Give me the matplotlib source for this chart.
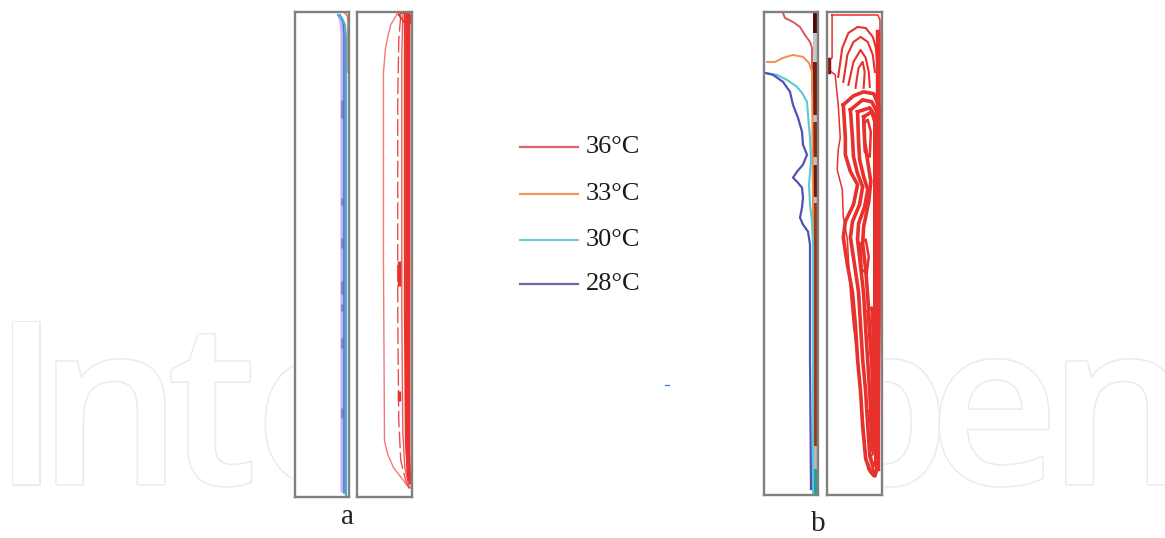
import matplotlib
matplotlib.use("Agg")
import matplotlib.pyplot as plt
import matplotlib.patheffects as pe
from matplotlib.patches import Rectangle
from matplotlib.lines import Line2D

W, H = 1165, 538

# ---------------- data (panel-local units: x across 0..54, y depth 0..484 from top) -------------
legend_labels = ["36°C", "33°C", "30°C", "28°C"]
legend_colors = ["#e0636c", "#f4975a", "#74cdd6", "#6a66b4"]

# watermark letters and their centres (pixels)
wm_letters = ["I", "n", "t", "e", "p", "e", "n"]
wm_centres = [26, 110, 212, 320, 880, 994, 1120]

# panel a, left: isotherms hugging the right wall
a_lav_x = [44, 46, 47, 47, 47]
a_lav_y = [4, 10, 20, 300, 478]
a_blue_x = [45, 48, 49, 49, 49]
a_blue_y = [3, 10, 20, 300, 480]
a_cyan_x = [43, 47, 50, 51, 51, 51]
a_cyan_y = [3, 6, 13, 25, 300, 484]
a_orange_x = [50, 52.5, 53, 53]
a_orange_y = [1, 4, 10, 60]
a_dash_y0 = [88, 186, 226, 268, 291, 325, 395]
a_dash_y1 = [106, 193, 236, 281, 298, 335, 405]

# panel a, right: 36°C contours
ar_outer_x = [40, 33, 30, 28, 26, 26, 27, 30, 36, 46, 51, 53, 53, 40]
ar_outer_y = [1, 13, 26, 36, 60, 250, 428, 441, 455, 468, 475, 475, 2, 1]
ar_c2_x = [43, 41, 40, 40, 41, 43, 48, 52]
ar_c2_y = [3, 28, 88, 300, 408, 448, 468, 476]
ar_c3_x = [45, 44, 44, 45, 47, 51]
ar_c3_y = [3, 40, 300, 420, 455, 472]
ar_c4_x = [47, 47, 47, 48, 50, 52]
ar_c4_y = [2, 40, 300, 430, 460, 470]
ar_c5_x = [50, 50, 50, 51]
ar_c5_y = [2, 250, 440, 466]
ar_top_x = [41, 44, 50, 53, 52, 46, 41]
ar_top_y = [3, 1, 1, 4, 12, 10, 3]
ar_seg_y0 = [248, 378]
ar_seg_y1 = [273, 388]

# panel b, left: isotherms
b_red_x = [19, 21, 29, 36, 41, 46, 48, 48]
b_red_y = [1, 6, 10, 15, 23, 30, 36, 80]
b_orange_x = [3, 11, 19, 29, 39, 45, 48, 49, 49]
b_orange_y = [50, 50, 46, 43, 45, 51, 60, 200, 480]
b_cyan_x = [1, 13, 23, 33, 38, 43, 44, 46, 47, 45, 46, 48, 49, 49]
b_cyan_y = [61, 63, 68, 75, 81, 90, 103, 126, 150, 173, 193, 210, 233, 483]
b_blue_x = [1, 9, 19, 26, 29, 34, 38, 39, 43, 39, 33, 29, 33, 38, 39, 38, 36, 39, 44, 46, 46, 46, 47]
b_blue_y = [61, 63, 70, 80, 93, 106, 120, 133, 143, 153, 160, 166, 170, 176, 186, 196, 206, 213, 220, 233, 248, 348, 478]
strip_y0 = [0, 21, 50, 103, 110, 145, 153, 185, 191, 435, 458]
strip_y1 = [21, 50, 103, 110, 145, 153, 185, 191, 435, 458, 483]
strip_colors = ["#4a0e0e", "#c8c8c8", "#7a1c12", "#c0c0c0", "#8a2a10", "#c0c0c0",
                "#6e1a10", "#c0c0c0", "#9a3a14", "#b8b8b8", "#20a0a0"]

# panel b, right: 36°C contours
br_outer_x = [5, 5, 2, 2, 8, 11, 13, 11, 10, 15, 16, 20, 21, 23, 26, 30, 33, 36, 38, 40, 45, 50, 52, 52, 50, 5]
br_outer_y = [3, 46, 48, 58, 63, 93, 126, 138, 158, 178, 205, 228, 248, 281, 315, 348, 381, 415, 441, 458, 465, 455, 288, 8, 3, 3]
br_edge_x = [2, 2]
br_edge_y = [47, 60]
br_arch1_x = [11, 15, 21, 30, 38, 45, 48, 50]
br_arch1_y = [65, 36, 21, 15, 16, 25, 36, 60]
br_arch2_x = [16, 20, 26, 33, 40, 45, 47]
br_arch2_y = [70, 43, 30, 25, 30, 43, 60]
br_arch3_x = [21, 26, 33, 38, 41, 42]
br_arch3_y = [73, 50, 38, 46, 60, 75]
br_arch4_x = [28, 31, 35, 37, 36]
br_arch4_y = [76, 56, 50, 60, 76]
br_body1_x = [16, 18, 18, 23, 30, 26, 18, 16, 20, 25, 28, 30, 33, 35, 38, 43, 47, 50, 51, 51, 46, 36, 26, 16]
br_body1_y = [93, 126, 143, 160, 173, 193, 210, 226, 253, 281, 315, 348, 381, 415, 448, 461, 465, 455, 300, 95, 82, 80, 84, 93]
br_body2_x = [23, 25, 26, 30, 35, 32, 25, 23, 27, 31, 33, 35, 38, 40, 42, 45, 48, 49, 49, 44, 35, 23]
br_body2_y = [98, 126, 145, 162, 175, 193, 210, 226, 253, 281, 315, 348, 381, 415, 445, 455, 450, 300, 100, 90, 88, 98]
br_body3_x = [30, 31, 32, 36, 40, 37, 31, 30, 33, 36, 38, 40, 42, 44, 46, 47, 47, 42, 30]
br_body3_y = [100, 130, 148, 165, 178, 195, 212, 228, 255, 283, 318, 350, 383, 415, 440, 300, 104, 96, 100]
br_body4_x = [36, 37, 40, 43, 41, 36, 35, 38, 40, 42, 44, 45, 46, 47, 47, 44, 36]
br_body4_y = [105, 130, 150, 170, 190, 215, 232, 258, 285, 320, 352, 385, 418, 430, 110, 100, 105]
br_isl1_x = [36, 40, 43, 42, 37, 36]
br_isl1_y = [112, 108, 120, 145, 140, 112]
br_isl2_x = [33, 38, 41, 39, 34, 33]
br_isl2_y = [232, 228, 245, 262, 258, 232]
br_isl3_x = [40, 44, 45, 43, 40]
br_isl3_y = [300, 296, 330, 345, 300]
br_isl4_x = [42, 46, 47, 44, 42]
br_isl4_y = [400, 395, 425, 440, 400]
br_isl5_x = [43, 47, 48, 46, 43]
br_isl5_y = [445, 440, 458, 465, 445]

# ---------------- figure ----------------
fig = plt.figure(figsize=(W / 100, H / 100), dpi=100)
fig.patch.set_facecolor("white")

# watermark
wm_kw = dict(fontsize=163, family="Open Sans", weight="semibold", color="white",
             va="baseline", ha="center", zorder=-3,
             path_effects=[pe.withStroke(linewidth=2.2, foreground="#ebebeb")])
for ch, xc in zip(wm_letters, wm_centres):
    fig.text(xc / W, 1 - 484 / H, ch, **wm_kw)
fig.patches.append(Rectangle((293 / W, 0), (884 - 293) / W, 1, transform=fig.transFigure,
                             facecolor="white", edgecolor="none", zorder=-2))

XMAX, YMAX = 54, 484


def panel(left, top, right, bottom):
    ax = fig.add_axes([left / W, 1 - bottom / H, (right - left) / W, (bottom - top) / H])
    ax.set_xlim(0, XMAX)
    ax.set_ylim(YMAX, 0)
    ax.set_xticks([])
    ax.set_yticks([])
    for s in ax.spines.values():
        s.set_color("#808080")
        s.set_linewidth(1.7)
    return ax


RED = "#e8302c"
LRED = "#f07a7a"

# panel a left
ax = panel(295, 12, 349, 497)
ax.plot(a_lav_x, a_lav_y, color="#c0b4ec", lw=2.2)
for y0, y1 in zip(a_dash_y0, a_dash_y1):
    ax.plot([47, 47], [y0, y1], color="#8c80d8", lw=2.2, solid_capstyle="butt")
ax.plot(a_blue_x, a_blue_y, color="#5a6ad0", lw=1.2)
ax.plot(a_cyan_x, a_cyan_y, color="#3cb4d8", lw=1.5)
ax.plot(a_orange_x, a_orange_y, color="#e08040", lw=1.2)

# panel a right
ax = panel(357, 12, 412, 497)
ax.plot(ar_outer_x, ar_outer_y, color=LRED, lw=1.0)
ax.plot(ar_c2_x, ar_c2_y, color=RED, lw=1.0, ls=(0, (12, 3)), alpha=0.85)
for y0, y1 in zip(ar_seg_y0, ar_seg_y1):
    ax.plot([41, 41], [y0, y1], color=RED, lw=2.5, solid_capstyle="butt")
ax.plot(ar_c3_x, ar_c3_y, color=RED, lw=1.0, alpha=0.8)
ax.plot(ar_c4_x, ar_c4_y, color=RED, lw=1.5)
ax.plot(ar_c5_x, ar_c5_y, color=RED, lw=3.0)
ax.plot(ar_top_x, ar_top_y, color=RED, lw=1.2)

# panel b left
ax = panel(764, 12, 818, 495)
for y0, y1, c in zip(strip_y0, strip_y1, strip_colors):
    ax.bar(51.2, y1 - y0, width=4.2, bottom=y0, color=c, edgecolor="none")
ax.plot(b_red_x, b_red_y, color="#d85a5e", lw=1.4)
ax.plot(b_orange_x, b_orange_y, color="#f0904c", lw=1.4)
ax.plot(b_cyan_x, b_cyan_y, color="#5cc6d4", lw=1.5)
ax.plot(b_blue_x, b_blue_y, color="#4f52b4", lw=1.6)

# panel b right
ax = panel(827, 12, 882, 495)
ax.plot(br_outer_x, br_outer_y, color=RED, lw=1.1)
ax.plot(br_edge_x, br_edge_y, color="#8a1a14", lw=2.5)
for xs, ys in [(br_arch1_x, br_arch1_y), (br_arch2_x, br_arch2_y),
               (br_arch3_x, br_arch3_y), (br_arch4_x, br_arch4_y)]:
    ax.plot(xs, ys, color=RED, lw=1.5)
for xs, ys in [(br_body1_x, br_body1_y), (br_body2_x, br_body2_y),
               (br_body3_x, br_body3_y), (br_body4_x, br_body4_y)]:
    ax.plot(xs, ys, color=RED, lw=2.6)
for xs, ys in [(br_isl1_x, br_isl1_y), (br_isl2_x, br_isl2_y), (br_isl3_x, br_isl3_y),
               (br_isl4_x, br_isl4_y), (br_isl5_x, br_isl5_y)]:
    ax.plot(xs, ys, color=RED, lw=1.8)
ax.plot([50, 50], [20, 458], color=RED, lw=3.2)

# legend
leg_y = [147, 194, 240, 284]
for lab, col, y in zip(legend_labels, legend_colors, leg_y):
    fig.add_artist(Line2D([520 / W, 578 / W], [1 - y / H, 1 - y / H], color=col, lw=1.6))
    fig.text(586 / W, 1 - y / H, lab, fontsize=19, family="Liberation Serif",
             va="center", ha="left", color="#1a1a1a")

fig.add_artist(Line2D([665 / W, 669 / W], [1 - 385 / H, 1 - 385 / H], color="#4a8ad0", lw=1))

# panel labels
fig.text(347 / W, 1 - 517 / H, "a", fontsize=21, family="Liberation Serif",
         ha="center", va="center", color="#222222")
fig.text(818 / W, 1 - 524 / H, "b", fontsize=21, family="Liberation Serif",
         ha="center", va="center", color="#222222")

fig.savefig("out.png", dpi=100, facecolor="white")
